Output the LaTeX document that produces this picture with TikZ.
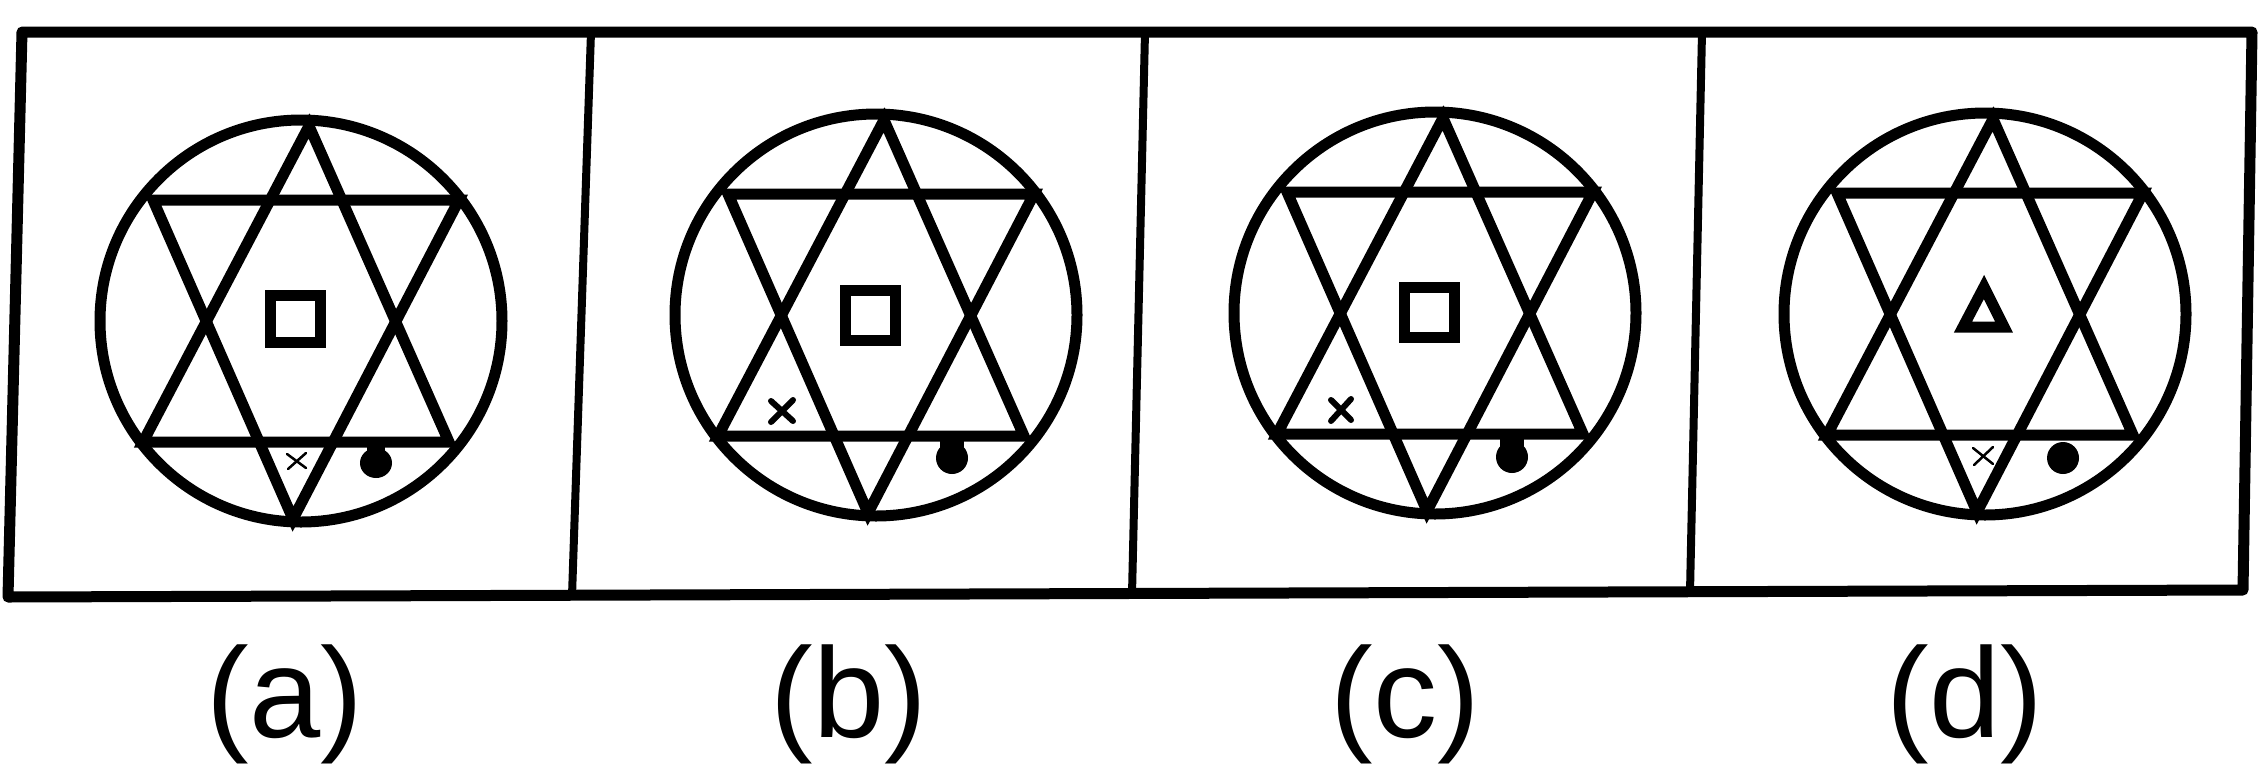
\documentclass[tikz,border=0pt]{standalone}
\usepackage{fontspec}
\setmainfont{Liberation Sans}
\usepackage{tikz}

\begin{document}
\begin{tikzpicture}[
    x=1pt, y=-1pt,
    outline/.style={line width=11pt, line join=round},
    divider/.style={line width=8pt},
    figline/.style={line width=11pt, line join=miter},
    crossbold/.style={line width=6pt, line cap=round},
    crossfaint/.style={line width=2.5pt, line cap=round},
    optlabel/.style={font=\fontsize{128}{140}\selectfont, anchor=base, inner sep=0pt,
        execute at begin node={\special{pdf:code 0 Tr}}},
]
    \useasboundingbox (0,0) rectangle (2262,764);

    % frame and dividers
    \draw[outline] (22,32) -- (2252,32) -- (2243,590) -- (8,597) -- cycle;
    \draw[divider] (591,32) -- (572,596);
    \draw[divider] (1145,32) -- (1132,594);
    \draw[divider] (1702,32) -- (1690,592);

    % circle with six-pointed star in every box
    \foreach \cx/\cy in {301/321, 876/315, 1435/313, 1985/314}{
        \draw[figline] (\cx,\cy) circle [radius=201];
        \draw[figline] (\cx+8,\cy-195) -- (\cx-158,\cy+121) -- (\cx+148,\cy+121) -- cycle;
        \draw[figline] (\cx-8,\cy+198) -- (\cx-148,\cy-121) -- (\cx+158,\cy-121) -- cycle;
    }

    % (a)
    \draw[figline] (270,295) rectangle (320,342);
    \draw[crossfaint] (287,454) -- (306,468) (306,453) -- (288,469);
    \fill (376,463) ellipse [x radius=16, y radius=15];
    \fill (367,446) rectangle (385,460);

    % (b)
    \draw[figline] (845,290) rectangle (895,340);
    \draw[crossbold] (771,401) -- (793,421) (793,400) -- (771,422);
    \fill (952,458) ellipse [x radius=16, y radius=16];
    \fill (940,440) rectangle (964,458);

    % (c)
    \draw[figline] (1404,287) rectangle (1454,337);
    \draw[crossbold] (1331,400) -- (1351,420) (1351,399) -- (1331,421);
    \fill (1512,457) ellipse [x radius=16, y radius=16];
    \fill (1500,438) rectangle (1524,457);

    % (d)
    \draw[figline] (1984,287) -- (2004,327) -- (1963,327) -- cycle;
    \draw[crossfaint] (1973,448) -- (1993,464) (1993,447) -- (1974,465);
    \fill (2063,458) circle [radius=16];

    % option labels
    \node[optlabel] (labA) at (285,737) {(a)};
    \node[optlabel] (labB) at (849,737) {(b)};
    \node[optlabel] (labC) at (1405,737) {(c)};
    \node[optlabel] (labD) at (1965,737) {(d)};
\end{tikzpicture}
\end{document}
